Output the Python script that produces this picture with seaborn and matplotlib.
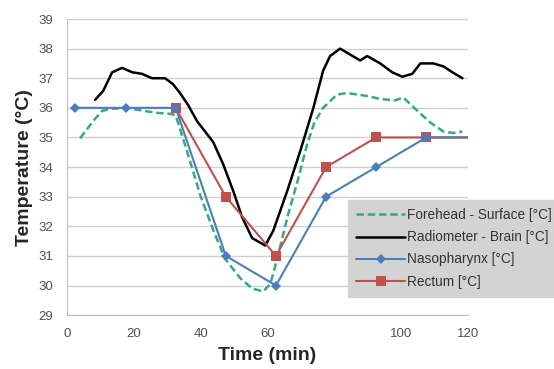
import matplotlib
matplotlib.use("Agg")
import matplotlib.pyplot as plt
import seaborn as sns

# Lecturas estimadas del gráfico original
forehead_t = [3.9, 7.8, 10.5, 13.5, 18, 22.8, 27, 30.8, 32.5, 36, 40, 44, 47.3, 51.8, 55.4,
              58.7, 60.8, 62.9, 65.9, 68.9, 71.9, 74, 76.6, 80.8, 83.8, 89.8, 93.7, 98.2,
              100.6, 104.8, 108.7, 112.6, 115.6, 118.3]
forehead_temp = [34.97, 35.55, 35.9, 35.97, 36.0, 35.9, 35.83, 35.8, 35.75, 34.5, 33.0, 31.8,
                 30.9, 30.25, 29.9, 29.8, 30.05, 30.9, 32.3, 33.5, 34.8, 35.5, 36.0, 36.45,
                 36.5, 36.4, 36.3, 36.25, 36.35, 35.9, 35.5, 35.2, 35.15, 35.2]

brain_t = [8.4, 10.8, 13.5, 16.5, 19.5, 22.4, 25.4, 29.3, 31.7, 33.8, 36.2, 38.9, 41.3, 43.7,
           46.7, 49.7, 52.4, 55.4, 59.3, 61.7, 65.9, 69.8, 73.7, 76.6, 78.7, 81.7, 84.7,
           87.7, 89.8, 93.7, 97.3, 100.3, 103.3, 105.7, 109.6, 112.6, 115.3, 118.3]
brain_temp = [36.27, 36.57, 37.2, 37.35, 37.2, 37.15, 37.0, 37.0, 36.8, 36.5, 36.1, 35.55,
              35.2, 34.85, 34.1, 33.2, 32.3, 31.6, 31.35, 31.85, 33.2, 34.55, 36.0, 37.25,
              37.75, 38.0, 37.8, 37.6, 37.75, 37.5, 37.2, 37.05, 37.15, 37.5, 37.5, 37.4,
              37.2, 37.0]

naso_t = [2.5, 17.5, 32.5, 47.5, 62.5, 77.5, 92.5, 107.5, 120]
naso_temp = [36, 36, 36, 31, 30, 33, 34, 35, 35]

rectum_t = [32.5, 47.5, 62.5, 77.5, 92.5, 107.5, 120]
rectum_temp = [36, 33, 31, 34, 35, 35, 35]

x_ticks = [0, 20, 40, 60, 80, 100, 120]
x_labels = ["0", "20", "40", "60", "", "100", "120"]

sns.set_style("white")
plt.rcParams["font.family"] = ["Liberation Sans", "DejaVu Sans"]

fig = plt.figure(figsize=(5.54, 3.69), dpi=100)
ax = fig.add_axes([0.121, 0.146, 0.724, 0.8025])

sns.lineplot(x=forehead_t, y=forehead_temp, ax=ax, color="#36a882", linestyle=(0, (3, 1.5)),
             linewidth=1.8, sort=False, label="Forehead - Surface [°C]")
sns.lineplot(x=brain_t, y=brain_temp, ax=ax, color="black", linewidth=1.8, sort=False,
             label="Radiometer - Brain [°C]")
sns.lineplot(x=rectum_t, y=rectum_temp, ax=ax, color="#c0504d", linewidth=1.5, sort=False,
             marker="s", markersize=7, markeredgewidth=0, markevery=list(range(len(rectum_t) - 1)),
             label="Rectum [°C]")
sns.lineplot(x=naso_t, y=naso_temp, ax=ax, color="#4a7ebb", linewidth=1.5, sort=False,
             marker="D", markersize=5, markeredgewidth=0, markevery=list(range(len(naso_t) - 1)),
             label="Nasopharynx [°C]")

ax.set_xlim(0, 120)
ax.set_ylim(29, 39)
ax.set_xticks(x_ticks)
ax.set_xticklabels(x_labels)
ax.set_yticks(range(29, 40))
ax.yaxis.grid(True, color="#d0d0d0", linewidth=1)
ax.set_axisbelow(True)
for s in ["top", "right"]:
    ax.spines[s].set_visible(False)
for s in ["left", "bottom"]:
    ax.spines[s].set_color("#bfbfbf")
ax.tick_params(axis="both", labelsize=9.5, labelcolor="#505050", color="#bfbfbf",
               length=3, width=1)
ax.tick_params(axis="y", pad=7)
ax.tick_params(axis="x", direction="inout", pad=8)
ax.set_xlabel("Time (min)", fontsize=14, fontweight="bold", labelpad=5)
ax.set_ylabel("Temperature (°C)", fontsize=14, fontweight="bold", labelpad=4)

h, l = ax.get_legend_handles_labels()
order = [0, 1, 3, 2]
ax.get_legend().remove()
leg = fig.legend([h[i] for i in order], [l[i] for i in order], loc="upper left",
                 bbox_to_anchor=(348 / 554, 1 - 200 / 369), fontsize=9.8, frameon=True,
                 fancybox=False, framealpha=1, facecolor="#d3d3d3", edgecolor="#d3d3d3",
                 handlelength=3.6, handletextpad=0.1, labelspacing=0.6, borderpad=0.6,
                 borderaxespad=0)
for t in leg.get_texts():
    t.set_color("#333333")

fig.savefig("out.png", dpi=100)
